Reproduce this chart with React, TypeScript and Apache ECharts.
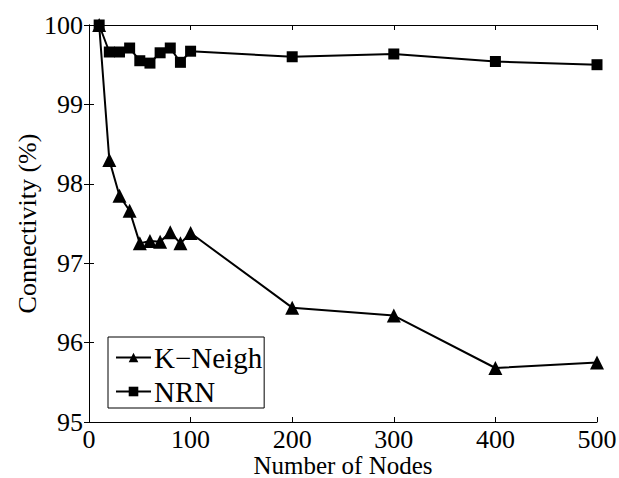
import React, { useEffect, useRef } from "react";
import * as echarts from "echarts";

const nodes = [10, 20, 30, 40, 50, 60, 70, 80, 90, 100, 200, 300, 400, 500];
const kNeigh = [100, 98.3, 97.85, 97.66, 97.25, 97.28, 97.27, 97.39, 97.25, 97.38, 96.44, 96.34, 95.68, 95.75];
const nrn = [100, 99.66, 99.66, 99.71, 99.55, 99.52, 99.65, 99.71, 99.53, 99.67, 99.6, 99.635, 99.54, 99.5];
const seriesNames = ["K\u2212Neigh", "NRN"];

const FONT = "Liberation Serif";
const FS = 26;

export default function App() {
  const ref = useRef<HTMLDivElement>(null);
  useEffect(() => {
    if (!ref.current) return;
    const chart = echarts.init(ref.current, undefined, { renderer: "svg" });
    const toPairs = (ys: number[]) => nodes.map((x, i) => [x, ys[i]]);
    const axisLine = { show: true, lineStyle: { color: "#000", width: 1 } };
    const tick = { show: true, inside: true, length: 5, lineStyle: { color: "#000" } };
    chart.setOption({
      animation: false,
      backgroundColor: "#fff",
      grid: { left: 89, top: 25, right: 22, bottom: 56, containLabel: false, outerBoundsMode: "none" },
      legend: {
        orient: "vertical",
        left: 108,
        top: 337,
        padding: [6, 2, 2, 7],
        itemGap: 5,
        itemWidth: 35,
        itemHeight: 12,
        borderColor: "#000",
        borderWidth: 1,
        borderRadius: 0,
        backgroundColor: "#fff",
        textStyle: { fontFamily: FONT, fontSize: 29, color: "#000", padding: [0, 0, 0, -2] },
        data: seriesNames,
      },
      xAxis: [
        {
          type: "value",
          min: 0,
          max: 500,
          interval: 100,
          name: "Number of Nodes",
          nameLocation: "middle",
          nameGap: 33,
          nameMoveOverlap: false,
          nameTextStyle: { fontFamily: FONT, fontSize: 25, color: "#000", lineHeight: 20 },
          axisLine,
          axisTick: tick,
          axisLabel: { fontFamily: FONT, fontSize: FS, color: "#000", margin: 7, lineHeight: 20 },
          splitLine: { show: false },
        },
        {
          type: "value",
          position: "top",
          min: 0,
          max: 500,
          interval: 100,
          axisLine,
          axisTick: tick,
          axisLabel: { show: false },
          splitLine: { show: false },
        },
      ],
      yAxis: [
        {
          type: "value",
          min: 95,
          max: 100,
          interval: 1,
          name: "Connectivity (%)",
          nameLocation: "middle",
          nameGap: 49,
          nameMoveOverlap: false,
          nameTextStyle: { fontFamily: FONT, fontSize: FS, color: "#000" },
          axisLine,
          axisTick: tick,
          axisLabel: { fontFamily: FONT, fontSize: FS, color: "#000", margin: 6 },
          splitLine: { show: false },
        },
        {
          type: "value",
          position: "right",
          min: 95,
          max: 100,
          interval: 1,
          axisLine,
          axisTick: tick,
          axisLabel: { show: false },
          splitLine: { show: false },
        },
      ],
      series: [
        {
          name: seriesNames[0],
          type: "line",
          data: toPairs(kNeigh),
          symbol: "triangle",
          symbolSize: 14,
          itemStyle: { color: "#000" },
          lineStyle: { color: "#000", width: 2 },
          z: 3,
        },
        {
          name: seriesNames[1],
          type: "line",
          data: toPairs(nrn),
          symbol: "rect",
          symbolSize: 11,
          itemStyle: { color: "#000" },
          lineStyle: { color: "#000", width: 2 },
          z: 2,
        },
      ],
    });
    return () => chart.dispose();
  }, []);
  return <div ref={ref} style={{ width: 619, height: 478, position: "absolute", left: 0, top: 0 }} />;
}
